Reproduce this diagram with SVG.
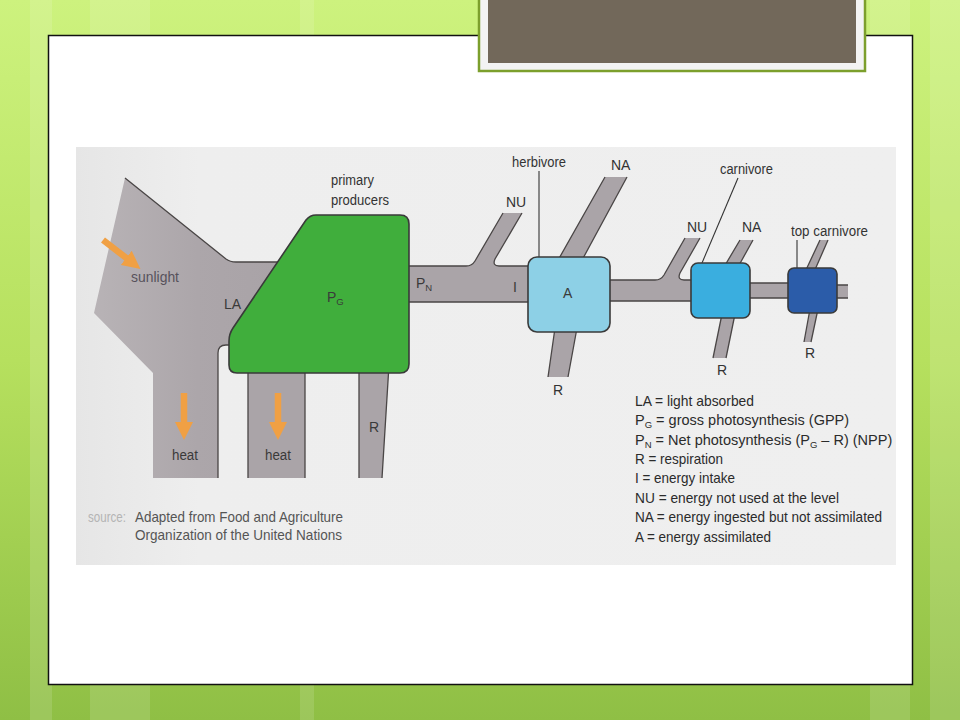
<svg xmlns="http://www.w3.org/2000/svg" width="960" height="720" viewBox="0 0 960 720">
<defs>
<linearGradient id="bg" x1="0" y1="0" x2="0" y2="1">
<stop offset="0" stop-color="#cdf27e"/>
<stop offset="0.5" stop-color="#b6e05e"/>
<stop offset="1" stop-color="#8fbf45"/>
</linearGradient>
<linearGradient id="photo" x1="0" y1="0" x2="1" y2="0">
<stop offset="0" stop-color="#e6e6e6"/>
<stop offset="0.15" stop-color="#eeeeee"/>
<stop offset="1" stop-color="#efefef"/>
</linearGradient>
<linearGradient id="sun" x1="0" y1="0" x2="1" y2="0">
<stop offset="0" stop-color="#b8b3b6"/>
<stop offset="0.5" stop-color="#aca6aa"/>
<stop offset="1" stop-color="#a8a2a6"/>
</linearGradient>
<marker id="oh" viewBox="0 0 18 18" markerWidth="18" markerHeight="18" refX="1" refY="9" orient="auto" markerUnits="userSpaceOnUse">
<path d="M0,0 L18,9 L0,18 Z" fill="#f0a044"/>
</marker>
<style>
.flow{fill:#aaa4a8;stroke:none}
.edge{fill:none;stroke:#4a4646;stroke-width:1.3}
.box{stroke:#3a3a3a;stroke-width:1.6}
.lbl{font-family:"Liberation Sans",Arial,sans-serif;font-size:14px;fill:#333}
.in{font-family:"Liberation Sans",Arial,sans-serif;font-size:14px;fill:#3a3a3a}
.leg{font-family:"Liberation Sans",Arial,sans-serif;font-size:14.5px;fill:#2b2b2b}
.sub{font-size:9.5px}
.lead{stroke:#333;stroke-width:1.1;fill:none}
.arrow{stroke:#f0a044;stroke-width:6.5;fill:none}
</style>
</defs>
<rect x="0" y="0" width="960" height="720" fill="url(#bg)"/>
<g fill="#ffffff" opacity="0.12">
<rect x="30" y="0" width="22" height="720"/>
<rect x="90" y="0" width="60" height="720"/>
<rect x="300" y="0" width="14" height="720"/>
<rect x="870" y="0" width="40" height="720"/>
<rect x="930" y="0" width="30" height="720"/>
</g>
<rect x="48.5" y="35.5" width="864" height="649" fill="#ffffff" stroke="#111" stroke-width="1.5"/>
<g id="title-box">
<rect x="479" y="-3" width="386" height="74" fill="#f3f3f3" stroke="#7c9f2c" stroke-width="2.5"/>
<rect x="488" y="0" width="368" height="63" fill="#72685a"/>
</g>
<rect x="76" y="147" width="820" height="418" fill="url(#photo)"/>

<g id="connectors">
<!-- sunlight / LA / heat shape -->
<path fill="url(#sun)" d="M125,178 L226,259 Q230,262 236,262 L300,262 L300,345 L226,345 Q218,345 218,353 L218,478 L153,478 L153,373 L94,313 Z"/>
<path class="edge" d="M125,178 L226,259 Q230,262 236,262 L300,262 M218,478 L218,353 Q218,345 226,345 L240,345"/>
<!-- heat column under producers -->
<path class="flow" d="M248,365 L305,365 L305,478 L248,478 Z"/>
<path class="edge" d="M248,365 L248,478 M305,365 L305,478"/>
<!-- R column under producers -->
<path class="flow" d="M359,365 L389,365 L382,478 L359,478 Z"/>
<path class="edge" d="M359,365 L359,478 M389,365 L382,478"/>
<!-- PN band with NU branch -->
<path class="flow" d="M400,266 L466,266 Q472,266 475,261 L503,213 L522,213 L495,259 Q492,266 499,266 L532,266 L532,302 L400,302 Z"/>
<path class="edge" d="M400,266 L466,266 Q472,266 475,261 L503,213 M522,213 L495,259 Q492,266 499,266 L532,266 M400,302 L532,302"/>
<!-- herbivore NA -->
<path class="flow" d="M557,262 L581,262 L627,177 L605,177 Z"/>
<path class="edge" d="M557,262 L605,177 M581,262 L627,177"/>
<!-- herbivore R -->
<path class="flow" d="M555,328 L577,328 L568,377 L548,377 Z"/>
<path class="edge" d="M555,328 L548,377 M577,328 L568,377"/>
<!-- band to carnivore with NU -->
<path class="flow" d="M605,280 L655,280 Q661,280 664,275 L685,238 L700,238 L680,273 Q677,280 684,280 L695,280 L695,301 L605,301 Z"/>
<path class="edge" d="M605,280 L655,280 Q661,280 664,275 L685,238 M700,238 L680,273 Q677,280 684,280 L695,280 M605,301 L695,301"/>
<!-- carnivore NA -->
<path class="flow" d="M724,267 L738,267 L753,240 L740,240 Z"/>
<path class="edge" d="M724,267 L740,240 M738,267 L753,240"/>
<!-- carnivore R -->
<path class="flow" d="M722,314 L735,314 L726,358 L713,358 Z"/>
<path class="edge" d="M722,314 L713,358 M735,314 L726,358"/>
<!-- band to top carnivore -->
<path class="flow" d="M746,283 L792,283 L792,298 L746,298 Z"/>
<path class="edge" d="M746,283 L792,283 M746,298 L792,298"/>
<!-- top carnivore up strip -->
<path class="flow" d="M805,272 L814,272 L828,240 L820,240 Z"/>
<path class="edge" d="M805,272 L820,240 M814,272 L828,240"/>
<!-- top carnivore R -->
<path class="flow" d="M810,309 L818,309 L811,342 L804,342 Z"/>
<path class="edge" d="M810,309 L804,342 M818,309 L811,342"/>
<!-- band after top carnivore -->
<path class="flow" d="M833,285 L848,285 L848,298 L833,298 Z"/>
<path class="edge" d="M833,285 L848,285 M833,298 L848,298"/>
<!-- leader lines -->
<line class="lead" x1="539" y1="171" x2="539" y2="257"/>
<line class="lead" x1="738" y1="178" x2="702" y2="263"/>
<line class="lead" x1="797" y1="240" x2="797" y2="268"/>
<!-- orange arrows -->
<line class="arrow" x1="103" y1="240" x2="127" y2="258.5" marker-end="url(#oh)"/>
<line class="arrow" x1="184" y1="393" x2="184" y2="423" marker-end="url(#oh)"/>
<line class="arrow" x1="278" y1="393" x2="278" y2="423" marker-end="url(#oh)"/>
</g>

<g id="primary-producers">
<path class="box" fill="#40ae3c" d="M237,373 L400,373 Q409,373 409,364 L409,224 Q409,215 400,215 L316,215 Q310,215 306,220 L233,328 Q229,334 229,341 L229,365 Q229,373 237,373 Z"/>
<text class="in" x="327" y="302">P<tspan class="sub" dy="3">G</tspan></text>
</g>
<g id="herbivore">
<rect class="box" x="528" y="257" width="82" height="75" rx="9" fill="#8dd0e6"/>
<text class="in" x="563" y="298">A</text>
</g>
<g id="carnivore">
<rect class="box" x="691" y="263" width="59" height="55" rx="7" fill="#3aaedf"/>
</g>
<g id="top-carnivore">
<rect class="box" x="788" y="268" width="49" height="45" rx="6" fill="#2b5ca9"/>
</g>

<g id="labels">
<text class="lbl" x="331" y="185" textLength="43" lengthAdjust="spacingAndGlyphs">primary</text>
<text class="lbl" x="331" y="205" textLength="58" lengthAdjust="spacingAndGlyphs">producers</text>
<text class="in" x="131" y="282" textLength="48" lengthAdjust="spacingAndGlyphs" style="fill:#57525c">sunlight</text>
<text class="in" x="224" y="309">LA</text>
<text class="in" x="416" y="288">P<tspan class="sub" dy="3">N</tspan></text>
<text class="in" x="513" y="292">I</text>
<text class="lbl" x="506" y="207">NU</text>
<text class="lbl" x="611" y="170">NA</text>
<text class="lbl" x="512" y="167" textLength="54" lengthAdjust="spacingAndGlyphs">herbivore</text>
<text class="lbl" x="553" y="395">R</text>
<text class="lbl" x="720" y="174" textLength="53" lengthAdjust="spacingAndGlyphs">carnivore</text>
<text class="lbl" x="687" y="232">NU</text>
<text class="lbl" x="742" y="232">NA</text>
<text class="lbl" x="791" y="236" textLength="77" lengthAdjust="spacingAndGlyphs">top carnivore</text>
<text class="lbl" x="717" y="375">R</text>
<text class="lbl" x="805" y="358">R</text>
<text class="in" x="172" y="460" textLength="26" lengthAdjust="spacingAndGlyphs">heat</text>
<text class="in" x="265" y="460" textLength="26" lengthAdjust="spacingAndGlyphs">heat</text>
<text class="in" x="369" y="432">R</text>
</g>

<g id="source">
<text class="leg" x="88" y="522" style="fill:#b4b4b4" textLength="38" lengthAdjust="spacingAndGlyphs">source:</text>
<text class="leg" x="135" y="522" textLength="208" lengthAdjust="spacingAndGlyphs" style="fill:#555">Adapted from Food and Agriculture</text>
<text class="leg" x="135" y="540" textLength="207" lengthAdjust="spacingAndGlyphs" style="fill:#555">Organization of the United Nations</text>
</g>

<g id="legend">
<text class="leg" x="635" y="406" textLength="119" lengthAdjust="spacingAndGlyphs">LA = light absorbed</text>
<text class="leg" x="635" y="425">P<tspan class="sub" dy="3">G</tspan><tspan dy="-3"> = gross photosynthesis (GPP)</tspan></text>
<text class="leg" x="635" y="445">P<tspan class="sub" dy="3">N</tspan><tspan dy="-3"> = Net photosynthesis (P</tspan><tspan class="sub" dy="3">G</tspan><tspan dy="-3"> – R) (NPP)</tspan></text>
<text class="leg" x="635" y="464" textLength="88" lengthAdjust="spacingAndGlyphs">R = respiration</text>
<text class="leg" x="635" y="483" textLength="100" lengthAdjust="spacingAndGlyphs">I = energy intake</text>
<text class="leg" x="635" y="503" textLength="204" lengthAdjust="spacingAndGlyphs">NU = energy not used at the level</text>
<text class="leg" x="635" y="522" textLength="247" lengthAdjust="spacingAndGlyphs">NA = energy ingested but not assimilated</text>
<text class="leg" x="635" y="542" textLength="136" lengthAdjust="spacingAndGlyphs">A = energy assimilated</text>
</g>
</svg>
